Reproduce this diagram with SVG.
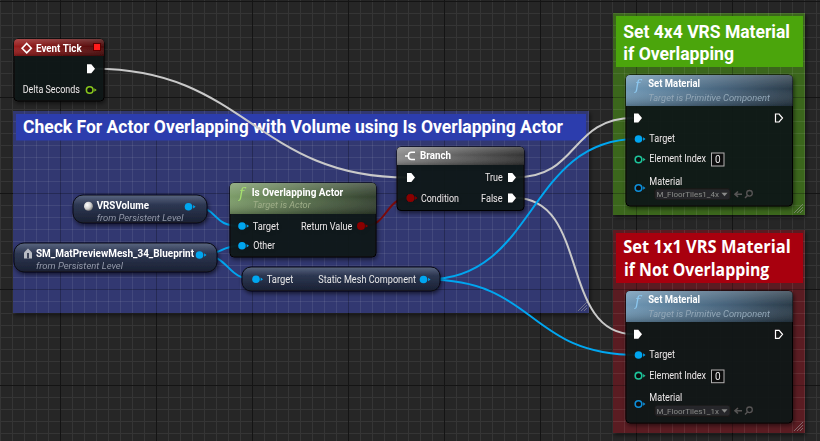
<svg xmlns="http://www.w3.org/2000/svg" width="820" height="441" viewBox="0 0 820 441">
<style>
.t{font-family:Roboto,"Liberation Sans",sans-serif;fill:#fff}
.ttl{font-size:11px;font-weight:bold}
.pin{font-size:10px;fill:#e8e8e8}
.sub{font-size:9.5px;font-style:italic}
.ctitle{font-family:Roboto,"Liberation Sans",sans-serif;font-weight:bold;fill:#fff}
.body{fill:#121416;fill-opacity:.88;stroke:#050505;stroke-width:1}
.wexec{fill:none;stroke:#c9c9c9;stroke-width:2}
.wobj{fill:none;stroke:#00a6f0;stroke-width:2}
.wbool{fill:none;stroke:#7c0a0a;stroke-width:2}
.grip{stroke:#9a9a9a;stroke-width:1;opacity:.6}
.dd{fill:#262829;stroke:#1a1a1a}
.ddt{font-family:Roboto,"Liberation Sans",sans-serif;font-size:8px;fill:#8a8a8a}
</style>
<defs>
<pattern id="grid" patternUnits="userSpaceOnUse" x="60" y="1" width="96" height="96">
<rect width="96" height="96" fill="#262626"/>
<path d="M12.5,0V96M24.5,0V96M36.5,0V96M48.5,0V96M60.5,0V96M72.5,0V96M84.5,0V96M0,12.5H96M0,24.5H96M0,36.5H96M0,48.5H96M0,60.5H96M0,72.5H96M0,84.5H96" stroke="#353535" stroke-width="1"/>
<path d="M0.5,0V96M0,0.5H96" stroke="#141414" stroke-width="1"/>
</pattern>
<pattern id="cgrid" patternUnits="userSpaceOnUse" x="60" y="1" width="96" height="96">
<path d="M12.5,0V96M24.5,0V96M36.5,0V96M48.5,0V96M60.5,0V96M72.5,0V96M84.5,0V96M0,12.5H96M0,24.5H96M0,36.5H96M0,48.5H96M0,60.5H96M0,72.5H96M0,84.5H96" stroke="#ffffff" stroke-opacity=".08" stroke-width="1"/>
<path d="M0.5,0V96M0,0.5H96" stroke="#000" stroke-opacity=".25" stroke-width="1"/>
</pattern>
<linearGradient id="hRed" x1="0" y1="0" x2="1" y2="0"><stop offset="0" stop-color="#9a1d1d"/><stop offset=".6" stop-color="#6e1111"/><stop offset="1" stop-color="#4c0b0b"/></linearGradient>
<linearGradient id="hGray" x1="0" y1="0" x2="1" y2="0"><stop offset="0" stop-color="#8c8c8c"/><stop offset=".6" stop-color="#555"/><stop offset="1" stop-color="#333"/></linearGradient>
<linearGradient id="hGreen" x1="0" y1="0" x2="1" y2="0"><stop offset="0" stop-color="#7c9c69"/><stop offset=".6" stop-color="#4e6444"/><stop offset="1" stop-color="#33412f"/></linearGradient>
<linearGradient id="hBlue" x1="0" y1="0" x2="1" y2="0"><stop offset="0" stop-color="#6f98b6"/><stop offset=".6" stop-color="#46627a"/><stop offset="1" stop-color="#2a3b49"/></linearGradient>
<linearGradient id="gloss" x1="0" y1="0" x2="0" y2="1"><stop offset="0" stop-color="#fff" stop-opacity=".2"/><stop offset=".45" stop-color="#fff" stop-opacity="0"/><stop offset="1" stop-color="#000" stop-opacity=".25"/></linearGradient>
<linearGradient id="pill" x1="0" y1="0" x2="0" y2="1"><stop offset="0" stop-color="#5a6680"/><stop offset=".35" stop-color="#2d3752"/><stop offset="1" stop-color="#1a2133"/></linearGradient>
<radialGradient id="sphere" cx=".35" cy=".35" r=".7"><stop offset="0" stop-color="#fff"/><stop offset=".6" stop-color="#cfcfcf"/><stop offset="1" stop-color="#777"/></radialGradient>
<filter id="sh" x="-10%" y="-10%" width="130%" height="140%"><feDropShadow dx="1" dy="2" stdDeviation="2" flood-color="#000" flood-opacity=".6"/></filter>
<path id="exec" d="M0,-4.5H4.3L8,0L4.3,4.5H0Z" fill="#fff"/>
<path id="execO" d="M0.5,-4H4.1L7.5,0L4.1,4H0.5Z" fill="none" stroke="#fff" stroke-width="1.2"/>
<g id="pObj"><circle r="3.8" fill="#00a6f0"/><path d="M4.6,-1.8L7,0L4.6,1.8Z" fill="#00a6f0"/></g>
<g id="pObjO"><circle r="3.3" fill="#0a0c10" stroke="#0a8fd8" stroke-width="1.6"/><path d="M4.6,-1.8L7,0L4.6,1.8Z" fill="#0a8fd8"/></g>
<g id="pInt"><circle r="3.3" fill="#0a0c10" stroke="#1fc59a" stroke-width="1.6"/><path d="M4.6,-1.8L7,0L4.6,1.8Z" fill="#1fc59a"/></g>
<g id="pFloat"><circle r="3.3" fill="#0a0c10" stroke="#86c81e" stroke-width="1.6"/><path d="M4.6,-1.8L7,0L4.6,1.8Z" fill="#86c81e"/></g>
<g id="pBool"><circle r="4" fill="#8a0000"/><path d="M4.6,-1.8L7,0L4.6,1.8Z" fill="#8a0000"/></g>
<g id="gripG"><path d="M-9,0L0,-9M-6,0L0,-6M-3,0L0,-3" class="grip"/></g>
<clipPath id="dd1"><rect x="655" y="189" width="64" height="11"/></clipPath>
<clipPath id="dd2"><rect x="655" y="405" width="64" height="11"/></clipPath>
</defs>

<rect width="820" height="441" fill="url(#grid)"/>

<g id="comment-check-overlap">
<rect x="13" y="111" width="576" height="202" fill="#323871" filter="url(#sh)"/>
<rect x="13" y="111" width="576" height="202" fill="url(#cgrid)"/>
<rect x="16" y="114" width="570" height="26.5" fill="#2c3dad"/>
<text class="ctitle" x="23" y="133" font-size="18" textLength="540" lengthAdjust="spacingAndGlyphs">Check For Actor Overlapping with Volume using Is Overlapping Actor</text>
<use href="#gripG" x="587" y="311"/>
</g>

<g id="comment-set-4x4">
<rect x="613" y="13" width="192" height="202" fill="#3b661b" filter="url(#sh)"/>
<rect x="613" y="13" width="192" height="202" fill="url(#cgrid)"/>
<rect x="616" y="16" width="187" height="51" fill="#4ba50c"/>
<text class="ctitle" x="623.3" y="38.3" font-size="19" textLength="166.7" lengthAdjust="spacingAndGlyphs">Set 4x4 VRS Material</text>
<text class="ctitle" x="623.3" y="60" font-size="19" textLength="110.7" lengthAdjust="spacingAndGlyphs">if Overlapping</text>
<use href="#gripG" x="803" y="213"/>
</g>

<g id="comment-set-1x1">
<rect x="613" y="230" width="192" height="203" fill="#5a1b20" filter="url(#sh)"/>
<rect x="613" y="230" width="192" height="203" fill="url(#cgrid)"/>
<rect x="616" y="233" width="187" height="50" fill="#a8000e"/>
<text x="623.3" y="253.3" font-family="'Open Sans','Noto Sans',sans-serif" font-weight="bold" font-size="17" fill="#fff" textLength="167.4" lengthAdjust="spacingAndGlyphs">Set 1x1 VRS Material</text>
<text x="624" y="276" font-family="'Open Sans','Noto Sans',sans-serif" font-weight="bold" font-size="17" fill="#fff" textLength="145.3" lengthAdjust="spacingAndGlyphs">if Not Overlapping</text>
<use href="#gripG" x="803" y="431"/>
</g>

<g id="connectors">
<path class="wexec" d="M95,68.8C245,68.8 257,177.5 407,177.5"/>
<path class="wexec" d="M515,177.5C580,177.5 569,118 634,118"/>
<path class="wexec" d="M515,198C590,198 559,334.3 634,334.3"/>
<path class="wobj" d="M427,279.5C537,279.5 527,139 637,139"/>
<path class="wobj" d="M427,279.5C537,279.5 527,355 637,355"/>
<path class="wobj" d="M191,206.7C221,206.7 210,226 240,226"/>
<path class="wobj" d="M202,255C222,255 220,245.7 240,245.7"/>
<path class="wobj" d="M202,255C230,255 226,279.3 254,279.3"/>
<path class="wbool" d="M364,226C388,226 385,198 409,198"/>
</g>

<g id="node-event-tick" filter="url(#sh)">
<rect class="body" x="14" y="39" width="90" height="62" rx="4"/>
<path d="M14,56V43Q14,39 18,39H100Q104,39 104,43V56Z" fill="url(#hRed)"/>
<path d="M14,56V43Q14,39 18,39H100Q104,39 104,43V56Z" fill="url(#gloss)"/>
<path d="M26.7,43.5L31.3,48.2L26.7,52.9L22.1,48.2Z" fill="none" stroke="#fff" stroke-width="1.6"/>
<text class="t ttl" x="36" y="51.7" textLength="45.7" lengthAdjust="spacingAndGlyphs">Event Tick</text>
<rect x="93.5" y="43.5" width="7" height="7" fill="#ff1e1e" stroke="#5a0000" stroke-width="1"/>
<use href="#exec" x="87" y="68.8"/>
<text class="t pin" x="22.7" y="93.3" textLength="57.3" lengthAdjust="spacingAndGlyphs">Delta Seconds</text>
<use href="#pFloat" x="89.7" y="90"/>
</g>

<g id="node-branch" filter="url(#sh)">
<rect class="body" x="397" y="147" width="127" height="63.5" rx="4"/>
<path d="M397,165V151Q397,147 401,147H520Q524,147 524,151V165Z" fill="url(#hGray)"/>
<path d="M397,165V151Q397,147 401,147H520Q524,147 524,151V165Z" fill="url(#gloss)"/>
<path d="M415,152.3H411.5Q408.5,152.3 408.5,155.3V156.5Q408.5,159.5 411.5,159.5H415M405,155.9H408" fill="none" stroke="#fff" stroke-width="1.5"/>
<text class="t ttl" x="420" y="159.3" textLength="31" lengthAdjust="spacingAndGlyphs">Branch</text>
<use href="#exec" x="407" y="177.5"/>
<use href="#pBool" x="410.5" y="198"/>
<text class="t pin" x="421" y="201.7" textLength="38" lengthAdjust="spacingAndGlyphs">Condition</text>
<text class="t pin" x="485" y="180.9" textLength="17.7" lengthAdjust="spacingAndGlyphs">True</text>
<use href="#exec" x="508" y="177.5"/>
<text class="t pin" x="481" y="201.7" textLength="21.7" lengthAdjust="spacingAndGlyphs">False</text>
<use href="#exec" x="508" y="198"/>
</g>

<g id="node-is-overlapping-actor" filter="url(#sh)">
<rect class="body" x="230" y="183" width="146" height="74" rx="4"/>
<path d="M230,214V187Q230,183 234,183H372Q376,183 376,187V214Z" fill="url(#hGreen)"/>
<path d="M230,214V187Q230,183 234,183H372Q376,183 376,187V214Z" fill="url(#gloss)"/>
<text x="239" y="198" font-family="'DejaVu Serif',serif" font-style="italic" font-size="14" fill="#a6e06e">f</text>
<text class="t ttl" x="251.7" y="196" textLength="91.6" lengthAdjust="spacingAndGlyphs">Is Overlapping Actor</text>
<text class="t sub" x="252.7" y="208.3" style="fill:#9fae88" textLength="58" lengthAdjust="spacingAndGlyphs">Target is Actor</text>
<use href="#pObj" x="242" y="226"/>
<text class="t pin" x="252.7" y="229.5" textLength="26.3" lengthAdjust="spacingAndGlyphs">Target</text>
<text class="t pin" x="301" y="229.5" textLength="51.3" lengthAdjust="spacingAndGlyphs">Return Value</text>
<use href="#pBool" x="361" y="226"/>
<use href="#pObj" x="242" y="245.7"/>
<text class="t pin" x="253.3" y="249.2" textLength="21.7" lengthAdjust="spacingAndGlyphs">Other</text>
</g>

<g id="node-vrsvolume" filter="url(#sh)">
<rect x="73" y="195" width="134" height="28" rx="10" fill="url(#pill)" stroke="#0a0d14"/>
<circle cx="88.5" cy="206.3" r="4.5" fill="url(#sphere)"/>
<text class="t ttl" x="96.7" y="209.3" textLength="52.3" lengthAdjust="spacingAndGlyphs">VRSVolume</text>
<text class="t sub" x="96.7" y="220.7" style="fill:#9399aa" textLength="86.7" lengthAdjust="spacingAndGlyphs">from Persistent Level</text>
<use href="#pObj" x="188.5" y="206.7"/>
</g>

<g id="node-sm-matpreviewmesh" filter="url(#sh)">
<rect x="14" y="243" width="203" height="29" rx="10" fill="url(#pill)" stroke="#0a0d14"/>
<path d="M24,252.5L28,248.5L32,252.5V258.5H24Z" fill="#b8bcc4"/>
<rect x="27" y="253" width="2" height="5.5" fill="#3a4256"/>
<text class="t ttl" x="36" y="257.3" textLength="158" lengthAdjust="spacingAndGlyphs">SM_MatPreviewMesh_34_Blueprint</text>
<text class="t sub" x="36" y="268.7" style="fill:#9399aa" textLength="87" lengthAdjust="spacingAndGlyphs">from Persistent Level</text>
<use href="#pObj" x="199.5" y="255"/>
</g>

<g id="node-static-mesh-component" filter="url(#sh)">
<rect x="242" y="267" width="198" height="24" rx="9" fill="url(#pill)" stroke="#0a0d14"/>
<use href="#pObj" x="256" y="279.3"/>
<text class="t pin" x="266.7" y="282.7" textLength="26.7" lengthAdjust="spacingAndGlyphs">Target</text>
<text class="t pin" x="318.3" y="282.7" textLength="97.7" lengthAdjust="spacingAndGlyphs">Static Mesh Component</text>
<use href="#pObj" x="423.5" y="279.5"/>
</g>

<g id="node-set-material-4x4" filter="url(#sh)">
<rect class="body" x="626" y="75" width="166.5" height="131" rx="4"/>
<path d="M626,106V79Q626,75 630,75H788.5Q792.5,75 792.5,79V106Z" fill="url(#hBlue)"/>
<path d="M626,106V79Q626,75 630,75H788.5Q792.5,75 792.5,79V106Z" fill="url(#gloss)"/>
<text x="635" y="89.5" font-family="'DejaVu Serif',serif" font-style="italic" font-size="14" fill="#8cc8f0">f</text>
<text class="t ttl" x="648.3" y="87.3" textLength="51.7" lengthAdjust="spacingAndGlyphs">Set Material</text>
<text class="t sub" x="648.3" y="100.7" style="fill:#93a8b8" textLength="121.7" lengthAdjust="spacingAndGlyphs">Target is Primitive Component</text>
<use href="#exec" x="634" y="118"/>
<use href="#execO" x="775" y="118"/>
<use href="#pObj" x="638.5" y="139"/>
<text class="t pin" x="649.3" y="142.2" textLength="25.7" lengthAdjust="spacingAndGlyphs">Target</text>
<use href="#pInt" x="638.5" y="159.5"/>
<text class="t pin" x="649.3" y="162.3" textLength="56.7" lengthAdjust="spacingAndGlyphs">Element Index</text>
<rect x="711.5" y="153" width="12.5" height="13" fill="#0d0d0d" stroke="#b0b0b0" stroke-width="1"/>
<text class="t pin" x="717.8" y="163.3" text-anchor="middle">0</text>
<use href="#pObjO" x="638.5" y="188"/>
<text class="t pin" x="649.3" y="185" textLength="33" lengthAdjust="spacingAndGlyphs">Material</text>
<rect class="dd" x="655" y="189" width="75" height="10.5" rx="2"/>
<text class="ddt" x="656.5" y="197.3" clip-path="url(#dd1)">M_FloorTiles1_4x4</text>
<path d="M721.5,192.8H727.5L724.5,196.3Z" fill="#8a8a8a"/>
<path d="M742,194.2H735.5M738,191.5L735,194.2L738,197" fill="none" stroke="#555" stroke-width="1.6"/>
<circle cx="749.5" cy="193.3" r="2.8" fill="none" stroke="#555" stroke-width="1.3"/>
<path d="M747.5,195.5L745,198" stroke="#555" stroke-width="1.5"/>
</g>

<g id="node-set-material-1x1" filter="url(#sh)">
<rect class="body" x="626" y="291" width="166.5" height="132" rx="4"/>
<path d="M626,322V295Q626,291 630,291H788.5Q792.5,291 792.5,295V322Z" fill="url(#hBlue)"/>
<path d="M626,322V295Q626,291 630,291H788.5Q792.5,291 792.5,295V322Z" fill="url(#gloss)"/>
<text x="635" y="305.5" font-family="'DejaVu Serif',serif" font-style="italic" font-size="14" fill="#8cc8f0">f</text>
<text class="t ttl" x="648.3" y="303.3" textLength="51.7" lengthAdjust="spacingAndGlyphs">Set Material</text>
<text class="t sub" x="648.3" y="316.7" style="fill:#93a8b8" textLength="121.7" lengthAdjust="spacingAndGlyphs">Target is Primitive Component</text>
<use href="#exec" x="634" y="334.3"/>
<use href="#execO" x="775" y="334.3"/>
<use href="#pObj" x="638.5" y="355"/>
<text class="t pin" x="649.3" y="358.2" textLength="25.7" lengthAdjust="spacingAndGlyphs">Target</text>
<use href="#pInt" x="638.5" y="375.7"/>
<text class="t pin" x="649.3" y="378.5" textLength="56.7" lengthAdjust="spacingAndGlyphs">Element Index</text>
<rect x="711.5" y="370" width="12.5" height="12.7" fill="#0d0d0d" stroke="#b0b0b0" stroke-width="1"/>
<text class="t pin" x="717.8" y="380.2" text-anchor="middle">0</text>
<use href="#pObjO" x="638.5" y="404"/>
<text class="t pin" x="649.3" y="401.3" textLength="33" lengthAdjust="spacingAndGlyphs">Material</text>
<rect class="dd" x="655" y="405.5" width="75" height="10.5" rx="2"/>
<text class="ddt" x="656.5" y="413.8" clip-path="url(#dd2)">M_FloorTiles1_1x1</text>
<path d="M721.5,409.3H727.5L724.5,412.8Z" fill="#8a8a8a"/>
<path d="M742,410.7H735.5M738,408L735,410.7L738,413.5" fill="none" stroke="#555" stroke-width="1.6"/>
<circle cx="749.5" cy="409.8" r="2.8" fill="none" stroke="#555" stroke-width="1.3"/>
<path d="M747.5,412L745,414.5" stroke="#555" stroke-width="1.5"/>
</g>
</svg>
